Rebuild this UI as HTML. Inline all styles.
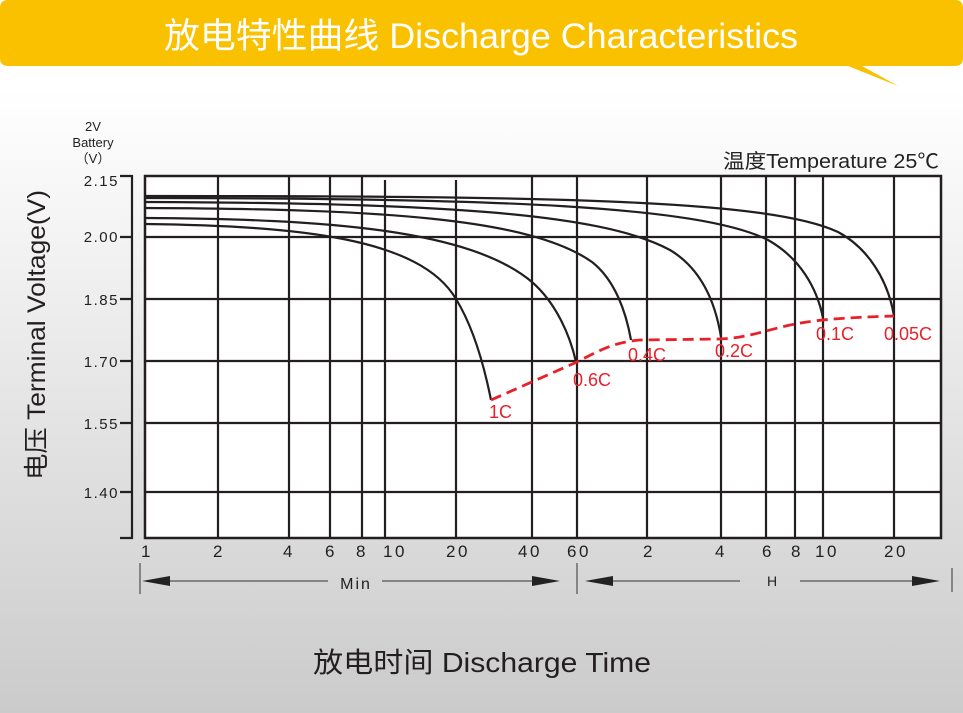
<!DOCTYPE html>
<html><head><meta charset="utf-8"><style>
body{margin:0;width:963px;height:713px;overflow:hidden;background:linear-gradient(#fff 0px,#fff 90px,#f2f2f2 250px,#d8d8d8 560px,#cbcbcb 713px);font-family:"Liberation Sans","Noto Sans CJK SC",sans-serif;}
</style></head><body>
<svg width="963" height="713" xmlns="http://www.w3.org/2000/svg" style="position:absolute;left:0;top:0">
<path d="M8,0 H955 Q963,0 963,8 V58 Q963,66 955,66 H862 L898,86 L848,66 H8 Q0,66 0,58 V8 Q0,0 8,0Z" fill="#f9c100"/>
<text x="481" y="48" text-anchor="middle" font-size="35" fill="#fff" font-family="Liberation Sans,Noto Sans CJK SC,sans-serif" textLength="634" lengthAdjust="spacingAndGlyphs">放电特性曲线 Discharge Characteristics</text>
<text x="93" y="131" text-anchor="middle" font-size="13" fill="#222">2V</text>
<text x="93" y="147" text-anchor="middle" font-size="13" fill="#222">Battery</text>
<text x="93" y="163" text-anchor="middle" font-size="13" fill="#222">（V）</text>
<text x="939" y="168" text-anchor="end" font-size="20" fill="#222" textLength="216" lengthAdjust="spacingAndGlyphs">温度Temperature 25℃</text>
<rect x="145" y="176" width="796" height="362" fill="#fff" stroke="#231f20" stroke-width="2.5"/>
<g stroke="#231f20" stroke-width="2.2" fill="none">
<path d="M145,237H941M145,299H941M145,361H941M145,423H941M145,492H941"/>
<path d="M218,176V538M289,176V538M330,176V538M362,176V538M385,180V538M456,180V538M532,176V538M577,176V538M647,176V538M721,176V538M766,176V538M795,176V538M823,176V538M894,176V538"/>
<path d="M120,176H132V538H120M120,237H132M120,299H132M120,361H132M120,423H132M120,492H132"/>
</g>
<g stroke="#231f20" stroke-width="2.2" fill="none">
<path d="M145,224 C300,226 420,238 456,299 C475,330 485,370 491,400"/>
<path d="M145,218 C330,219 470,230 532,282 C556,303 570,335 576,362"/>
<path d="M145,208 C380,209 530,218 592,262 C615,280 626,312 631,340"/>
<path d="M145,202 C430,203 600,212 670,250 C700,268 715,300 721,337"/>
<path d="M145,198 C500,198 700,206 768,240 C800,258 817,288 823,318"/>
<path d="M145,196 C560,196 770,200 838,232 C868,248 888,280 894,316"/>
</g>
<path d="M491,400 L577,362 C600,350 615,342 640,340 L720,339 C745,338 760,332 790,325 C810,321 830,318 894,316" stroke="#e8202a" stroke-width="2.8" fill="none" stroke-dasharray="11,6"/>
<g fill="#e8202a" font-size="18">
<text x="489" y="418">1C</text><text x="573" y="386">0.6C</text><text x="628" y="361">0.4C</text><text x="715" y="357">0.2C</text><text x="816" y="340">0.1C</text><text x="884" y="340">0.05C</text>
</g>
<g fill="#231f20" font-size="15" text-anchor="end" letter-spacing="1.5">
<text x="119" y="186">2.15</text><text x="119" y="242">2.00</text><text x="119" y="305">1.85</text><text x="119" y="367">1.70</text><text x="119" y="429">1.55</text><text x="119" y="498">1.40</text>
</g>
<g fill="#231f20" font-size="17" text-anchor="middle" letter-spacing="2.5">
<text x="147" y="557">1</text><text x="219" y="557">2</text><text x="289" y="557">4</text><text x="331" y="557">6</text><text x="362" y="557">8</text><text x="395" y="557">10</text><text x="458" y="557">20</text><text x="530" y="557">40</text><text x="579" y="557">60</text><text x="649" y="557">2</text><text x="721" y="557">4</text><text x="768" y="557">6</text><text x="797" y="557">8</text><text x="827" y="557">10</text><text x="896" y="557">20</text>
</g>
<g stroke="#333" stroke-width="1">
<path d="M140,563V594M577,563V594M952,568V592"/>
<path d="M148,581H328M382,581H535M590,581H740M800,581H935"/>
</g>
<g fill="#222"><path d="M142,581L170,576V586Z"/><path d="M560,581L532,576V586Z"/><path d="M585,581L613,576V586Z"/><path d="M940,581L912,576V586Z"/></g>
<text x="356" y="589" text-anchor="middle" font-size="16" fill="#231f20" letter-spacing="2">Min</text>
<text x="772" y="586" text-anchor="middle" font-size="14" fill="#231f20">H</text>
<text x="482" y="672" text-anchor="middle" font-size="28" fill="#231f20" textLength="338" lengthAdjust="spacingAndGlyphs">放电时间 Discharge Time</text>
<text transform="translate(45,335) rotate(-90)" text-anchor="middle" font-size="25" fill="#231f20" textLength="290" lengthAdjust="spacingAndGlyphs">电压 Terminal Voltage(V)</text>
</svg>
</body></html>
